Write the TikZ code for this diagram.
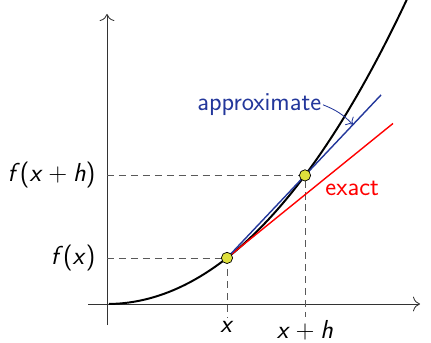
\documentclass[tikz,border=0pt]{standalone}
\usepackage{tikz}
\usetikzlibrary{arrows.meta,positioning,calc}
\definecolor{approxblue}{RGB}{35,55,155}
\definecolor{ptyellow}{RGB}{222,224,60}
\newcommand{\sv}[1]{\textsl{#1}}
\newcommand{\plussp}{\hspace{0.22em}+\hspace{0.22em}}

\begin{document}
\begin{tikzpicture}[
    declare function={f(\t)=0.123*\t*\t+0.00166*\t*\t*\t;},
    font=\fontsize{18.5}{22}\selectfont\sffamily,
    axis/.style={-{To[length=5pt]}, line width=0.6pt, black!80},
    guide/.style={dash pattern=on 5pt off 3.5pt, line width=0.6pt, black!65},
    pt/.style={circle, draw=black, line width=0.5pt, fill=ptyellow, inner sep=0pt, minimum size=8pt},
    lbl/.style={inner sep=1pt}
]
\useasboundingbox (-2.675,-0.95) rectangle (8.1,7.6);

% axes
\coordinate (xl) at (-0.475,0);
\coordinate (xr) at (7.825,0);
\coordinate (yb) at (0,-0.525);
\coordinate (yt) at (0,7.25);
\draw[axis] (xl) -- (xr);
\draw[axis] (yb) -- (yt);

% the two points and the guides
\coordinate (p1) at (3,{f(3)});
\coordinate (p2) at (4.95,{f(4.95)});
\coordinate (p1y) at (0,{f(3)});
\coordinate (p2y) at (0,{f(4.95)});
\coordinate (p1x) at (3,-0.33);
\coordinate (p2x) at (4.95,-0.33);
\draw[guide] (p1y) -- (p1) -- (p1x);
\draw[guide] (p2y) -- (p2) -- (p2x);

% curve
\draw[line width=1.4pt, domain=0.05:7.5, samples=60] plot (\x,{f(\x)});

% exact and approximate slopes
\coordinate (te) at (7.15,{f(3)+0.81*4.15});
\coordinate (ae) at (6.85,{f(3)+(f(4.95)-f(3))/1.95*3.85});
\draw[red, line width=1pt] (p1) -- (te);
\draw[approxblue, line width=1pt] (p1) -- (ae);

\node[pt] (pt1) at (p1) {};
\node[pt] (pt2) at (p2) {};

% labels
\node[lbl, anchor=east] (fx) at (-0.25,{f(3)}) {\sv{f}(\sv{x})};
\node[lbl, anchor=east] (fxh) at (-0.25,{f(4.95)}) {\sv{f}(\sv{x}\plussp\sv{h})};
\node[lbl, anchor=north] (lx) at (3,-0.38) {\sv{x}};
\node[lbl, anchor=north] (lxh) at (4.95,-0.38) {\sv{x}\plussp\sv{h}};
\node[lbl, red] (ex) at (6.13,2.9) {exact};
\node[lbl, approxblue, anchor=east] (ap) at (5.4,4.98) {approximate};
\coordinate (tgt) at ($(p1)!0.818!(ae)$);
\draw[approxblue, line width=0.6pt, -{To[length=4pt]}] (ap.east) to[bend left=12] (tgt);
\end{tikzpicture}
\end{document}
